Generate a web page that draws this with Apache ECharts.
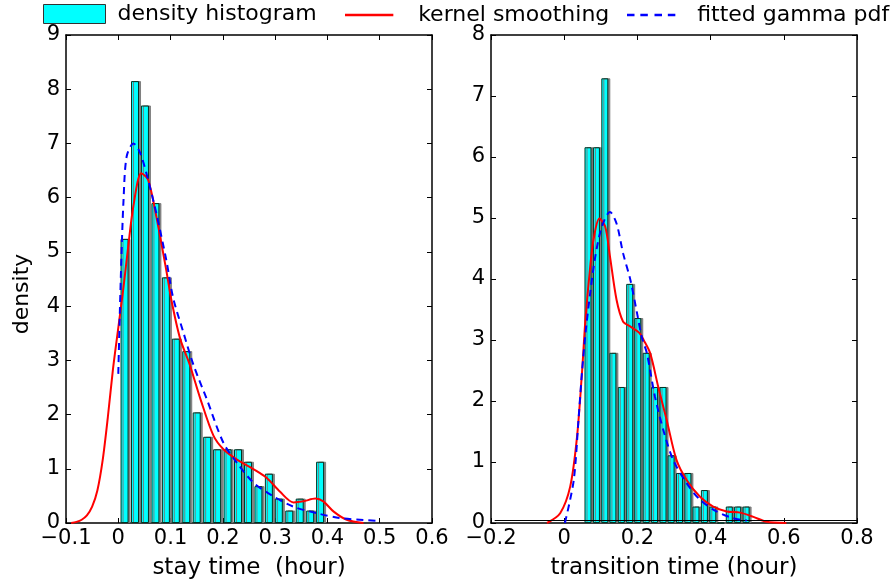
<!DOCTYPE html>
<html>
<head>
<meta charset="utf-8">
<script src="https://cdn.jsdelivr.net/npm/echarts@6/dist/echarts.min.js"></script>
<style>
html,body{margin:0;padding:0;background:#fff;}
#chart{width:893px;height:585px;}
</style>
</head>
<body>
<div id="chart"></div>
<script>
// ---- Left panel: stay time ----
const stayBinCenters = [0.012, 0.032, 0.051, 0.071, 0.091, 0.110, 0.130, 0.150, 0.170, 0.189,
                        0.209, 0.229, 0.248, 0.268, 0.288, 0.307, 0.327, 0.347, 0.367, 0.386];
const stayDensity = [5.24, 8.15, 7.70, 5.90, 4.53, 3.40, 3.17, 2.04, 1.59, 1.36,
                     1.36, 1.36, 1.13, 0.68, 0.91, 0.45, 0.23, 0.45, 0.23, 1.13];
const stayKernel = [[-0.09,0],[-0.08,0.02],[-0.07,0.06],[-0.06,0.14],[-0.05,0.30],[-0.04,0.60],
  [-0.03,1.15],[-0.02,1.95],[-0.01,2.85],[0.0,3.6],[0.01,4.35],[0.019,5.1],[0.029,5.85],
  [0.044,6.45],[0.057,6.33],[0.073,5.64],
  [0.092,4.65],[0.102,4.09],[0.118,3.41],[0.137,2.91],[0.157,2.29],[0.182,1.61],[0.201,1.36],
  [0.227,1.17],[0.259,0.99],[0.284,0.83],[0.309,0.58],[0.335,0.38],[0.354,0.40],[0.377,0.45],
  [0.392,0.40],[0.412,0.21],[0.437,0.06],[0.469,0.0]];
const stayGamma = [[0.0,2.75],[0.003,3.9],[0.006,4.9],[0.01,5.95],[0.016,6.76],[0.029,7.0],
  [0.042,6.82],[0.057,6.33],[0.073,5.7],[0.092,4.84],[0.105,4.15],[0.124,3.53],[0.144,2.91],
  [0.169,2.29],[0.201,1.48],[0.227,1.11],[0.259,0.74],[0.297,0.49],[0.335,0.30],[0.38,0.18],
  [0.425,0.09],[0.495,0.04]];

// ---- Right panel: transition time ----
const transBinCenters = [0.065, 0.088, 0.111, 0.133, 0.156, 0.179, 0.201, 0.224, 0.247, 0.270,
                         0.292, 0.315, 0.338, 0.360, 0.383, 0.406, 0.428, 0.451, 0.474, 0.497];
const transDensity = [6.16, 6.16, 7.29, 2.79, 2.23, 3.92, 3.36, 2.79, 2.23, 2.23,
                      1.11, 0.82, 0.82, 0.27, 0.54, 0.27, 0.0, 0.27, 0.27, 0.27];
const transKernel = [[-0.047,0],[-0.011,0.16],[0.0165,0.6],[0.035,1.41],[0.049,2.5],[0.058,3.33],
  [0.071,4.2],[0.080,4.64],[0.096,4.99],[0.112,4.86],[0.125,4.37],[0.143,3.66],[0.161,3.3],
  [0.181,3.22],[0.205,3.12],[0.217,3.0],[0.235,2.78],[0.257,2.23],[0.280,1.69],[0.307,1.03],
  [0.335,0.70],[0.371,0.43],[0.407,0.27],[0.444,0.19],[0.481,0.17],[0.517,0.10],[0.553,0.02],[0.607,0]];
const transGamma = [[0.002,0],[0.026,0.7],[0.039,1.69],[0.049,2.5],[0.058,3.1],[0.071,3.77],
  [0.085,4.37],[0.103,4.86],[0.125,5.1],[0.143,4.91],[0.161,4.42],[0.181,3.98],[0.199,3.44],
  [0.212,3.05],[0.226,2.78],[0.248,2.07],[0.271,1.52],[0.298,1.03],[0.335,0.65],[0.371,0.38],
  [0.416,0.19],[0.461,0.08],[0.499,0.04]];
const transRefLine = [[-0.19,0.04],[0.8,0.04]];

// axis settings
const stayXTicks = {min:-0.1, max:0.6, interval:0.1};
const stayYTicks = {min:0, max:9, interval:1};
const transXTicks = {min:-0.2, max:0.8, interval:0.2};
const transYTicks = {min:0, max:8, interval:1};

const FONT = 'DejaVu Sans';
function fmt(v){ const r = +(+v).toFixed(2); return r < 0 ? '\u2212' + Math.abs(r) : String(r); }

function xAx(grid, t, name, pos){
  const main = pos === 'bottom';
  return {type:'value', gridIndex:grid, position:pos, min:t.min, max:t.max, interval:t.interval,
    name: main ? name : '', nameLocation:'middle', nameGap:34,
    nameTextStyle:{color:'#000', fontFamily:FONT, fontSize:23},
    axisLine:{show:true, onZero:false, lineStyle:{color:'#000', width:1.5}},
    axisTick:{show:true, inside:true, length:5, lineStyle:{color:'#000', width:1}},
    axisLabel:{show:main, color:'#000', fontFamily:FONT, fontSize:21, margin:5, formatter:fmt, showMinLabel:true, showMaxLabel:true},
    splitLine:{show:false}};
}
function yAx(grid, t, name, pos){
  const main = pos === 'left';
  return {type:'value', gridIndex:grid, position:pos, min:t.min, max:t.max, interval:t.interval,
    name: main ? name : '', nameLocation:'middle', nameGap:33, nameRotate:90,
    nameTextStyle:{color:'#000', fontFamily:FONT, fontSize:22, padding:[0,30,0,0]},
    axisLine:{show:true, onZero:false, lineStyle:{color:'#000', width:1.5}},
    axisTick:{show:true, inside:true, length:5, lineStyle:{color:'#000', width:1}},
    axisLabel:{show:main, color:'#000', fontFamily:FONT, fontSize:21, margin:6},
    splitLine:{show:false}};
}

const barStyle = {color:'#00FFFF', borderColor:'#032', borderWidth:1,
  shadowColor:'rgba(120,120,120,0.9)', shadowOffsetX:2, shadowOffsetY:0, shadowBlur:0};
const redStyle = {color:'#FF0000', width:2};
const blueStyle = {color:'#0000FF', width:2, type:[7,5]};

const legendText = {color:'#000', fontFamily:FONT, fontSize:22};
const option = {
  animation:false,
  backgroundColor:'#fff',
  legend:[
    {data:[{name:'density histogram', icon:'rect'}], left:38, top:-2, itemWidth:62, itemHeight:19,
     textStyle:Object.assign({padding:[0,0,0,7]}, legendText),
     itemStyle:{borderColor:'#333', borderWidth:1, shadowBlur:0, shadowOffsetX:0}},
    {data:[{name:'kernel smoothing', icon:'path://M0,0H58V3H0Z'}], left:340, top:-1, itemWidth:58, itemHeight:2.5,
     textStyle:Object.assign({padding:[0,0,0,15]}, legendText)},
    {data:[{name:'fitted gamma pdf', icon:'path://M0,0H9V3H0Z M16,0H25V3H16Z M33,0H42V3H33Z M49,0H58V3H49Z'}],
     left:622, top:-1, itemWidth:58, itemHeight:2.5,
     textStyle:Object.assign({padding:[0,0,0,12]}, legendText)}
  ],
  grid:[
    {left:66, top:35, width:366, height:488},
    {left:491, top:35, width:366, height:489}
  ],
  xAxis:[
    xAx(0, stayXTicks, 'stay time  (hour)', 'bottom'),
    xAx(1, transXTicks, 'transition time (hour)', 'bottom'),
    xAx(0, stayXTicks, '', 'top'),
    xAx(1, transXTicks, '', 'top')
  ],
  yAxis:[
    yAx(0, stayYTicks, 'density', 'left'),
    yAx(1, transYTicks, '', 'left'),
    yAx(0, stayYTicks, '', 'right'),
    yAx(1, transYTicks, '', 'right')
  ],
  series:[
    {name:'density histogram', type:'bar', xAxisIndex:0, yAxisIndex:0, barWidth:8, z:2,
     itemStyle:barStyle, data:stayBinCenters.map((x,i)=>[x, stayDensity[i]])},
    {name:'kernel smoothing', type:'line', xAxisIndex:0, yAxisIndex:0, smooth:0.3, symbol:'none', z:4,
     lineStyle:redStyle, itemStyle:{color:'#FF0000'}, data:stayKernel},
    {name:'fitted gamma pdf', type:'line', xAxisIndex:0, yAxisIndex:0, smooth:0.3, symbol:'none', z:5,
     lineStyle:blueStyle, itemStyle:{color:'#0000FF'}, data:stayGamma},
    {name:'density histogram', type:'bar', xAxisIndex:1, yAxisIndex:1, barWidth:7, z:2,
     itemStyle:barStyle, data:transBinCenters.map((x,i)=>[x, transDensity[i]]),
     markLine:{silent:true, symbol:'none', label:{show:false}, lineStyle:{color:'#000', width:1, type:'solid'},
       data:[[{coord:transRefLine[0]},{coord:transRefLine[1]}]]}},
    {name:'kernel smoothing', type:'line', xAxisIndex:1, yAxisIndex:1, smooth:0.3, symbol:'none', z:4,
     lineStyle:redStyle, itemStyle:{color:'#FF0000'}, data:transKernel},
    {name:'fitted gamma pdf', type:'line', xAxisIndex:1, yAxisIndex:1, smooth:0.3, symbol:'none', z:5,
     lineStyle:blueStyle, itemStyle:{color:'#0000FF'}, data:transGamma}
  ]
};
const chart = echarts.init(document.getElementById('chart'), null, {renderer:'canvas'});
chart.setOption(option);
</script>
</body>
</html>
